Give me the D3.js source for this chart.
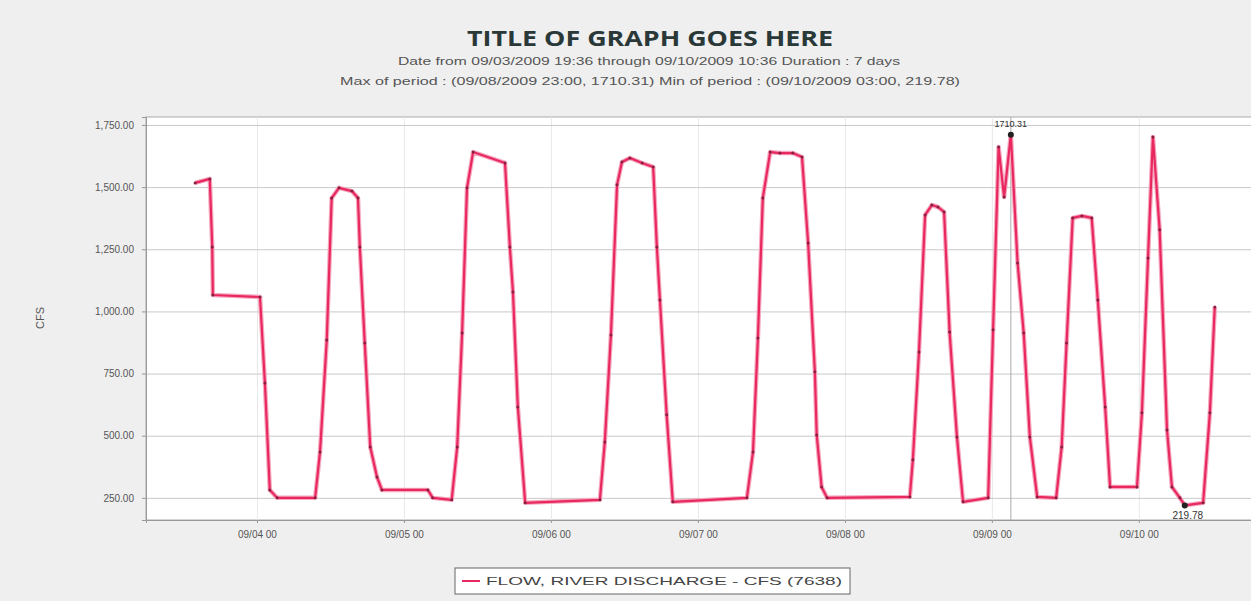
<!DOCTYPE html>
<html>
<head>
<meta charset="utf-8">
<script src="https://cdn.jsdelivr.net/npm/d3@7"></script>
<style>
  body { margin: 0; background: #efefef; }
  svg { display: block; font-family: "Liberation Sans", Arial, sans-serif; }
  .axis text { fill: #555; font-size: 10px; }
  .axis path, .axis line { stroke: #999; }
  .grid line { stroke: #c9c9c9; }
  .vgrid line { stroke: #e8e8e8; }
</style>
</head>
<body>
<svg id="chart" width="1251" height="601"></svg>
<script>
/*    ========    DATA    =========    */

var TITLE = "TITLE OF GRAPH GOES HERE";
var SUBTITLE_1 = "Date from 09/03/2009 19:36 through 09/10/2009 10:36 Duration : 7 days";
var SUBTITLE_2 = "Max of period : (09/08/2009 23:00, 1710.31) Min of period : (09/10/2009 03:00, 219.78)";
var SERIES_NAME = "FLOW, RIVER DISCHARGE - CFS (7638)";
var Y_LABEL = "CFS";

// hours after 09/03/2009 00:00
var hours = [13.9, 16.3, 16.7, 16.8, 24.5, 25.3, 26.1, 27.3, 33.5, 34.3, 35.4, 36.2, 37.4, 39.5, 40.5,
    40.8, 41.6, 42.5, 43.6, 44.4, 51.9, 52.7, 55.8, 56.7, 57.5, 58.3, 59.3, 64.5, 65.3, 65.8, 66.6,
    67.8, 80.0, 80.8, 81.8, 82.8, 83.6, 84.9, 86.9, 88.7, 89.3, 89.8, 90.9, 91.9, 104.0, 105.0, 105.8,
    106.6, 107.8, 109.4, 111.5, 113.0, 114.0, 115.1, 115.4, 116.2, 117.1, 130.6, 131.1, 132.1, 133.1,
    134.2, 135.2, 136.2, 137.1, 138.3, 139.3, 143.4, 144.2, 145.1, 146.0, 147.1, 148.2, 149.2, 150.2,
    151.4, 154.5, 155.4, 156.2, 157.2, 158.7, 160.3, 161.3, 162.5, 163.3, 167.7, 168.5, 169.5, 170.3,
    171.4, 172.6, 173.4, 174.7, 175.5, 178.5, 179.6, 180.4];

var cfs = [1517, 1533, 1259, 1066, 1058, 712, 282, 250, 250, 435, 885, 1456, 1497, 1484, 1456,
    1259, 873, 455, 334, 282, 282, 250, 242, 455, 913, 1497, 1641, 1597, 1259, 1078, 616,
    230, 242, 475, 905, 1509, 1601, 1617, 1597, 1581, 1259, 1046, 584, 234, 250, 435, 893,
    1456, 1641, 1637, 1637, 1621, 1275, 757, 503, 294, 250, 254, 403, 837, 1388,
    1428, 1420, 1400, 917, 495, 234, 250, 926, 1661, 1460, 1710.31, 1195, 913, 495,
    254, 250, 455, 873, 1376, 1384, 1376, 1046, 616, 294, 294, 592, 1215, 1702,
    1328, 523, 294, 250, 219.78, 230, 592, 1018];

var Y_TICKS = [250, 500, 750, 1000, 1250, 1500, 1750];
var Y_DOMAIN = [161, 1782];
var X_DOMAIN = [new Date(2009, 8, 3, 5, 53), new Date(2009, 8, 10, 19, 47)];
var X_TICKS = [4, 5, 6, 7, 8, 9, 10].map(function(d) { return new Date(2009, 8, d); });

/*    ========    SETTINGS    =========    */

var svg = d3.select("#chart");
var margin = {left: 146, top: 117};
var plotW = 1114, plotH = 403;
var LINE_COLOR = "#e8285f";

var base = new Date(2009, 8, 3).getTime();
var data = hours.map(function(h, i) {
    return {t: new Date(base + h * 3600000), v: cfs[i]};
});

var xscale = d3.scaleTime().domain(X_DOMAIN).range([0, plotW]);
var yscale = d3.scaleLinear().domain(Y_DOMAIN).range([plotH, 0]);

/*    ========    TITLES    =========    */

svg.append("text")
    .attr("x", 650).attr("y", 46)
    .attr("text-anchor", "middle")
    .attr("textLength", 366)
    .attr("lengthAdjust", "spacingAndGlyphs")
    .style("font-family", "'Open Sans', sans-serif")
    .style("font-weight", "bold")
    .style("font-size", "22px")
    .style("fill", "#2a3838")
    .text(TITLE);

svg.append("text")
    .attr("x", 649).attr("y", 65)
    .attr("text-anchor", "middle")
    .attr("textLength", 502)
    .attr("lengthAdjust", "spacingAndGlyphs")
    .style("font-size", "10.5px")
    .style("fill", "#555")
    .text(SUBTITLE_1);

svg.append("text")
    .attr("x", 650).attr("y", 85)
    .attr("text-anchor", "middle")
    .attr("textLength", 620)
    .attr("lengthAdjust", "spacingAndGlyphs")
    .style("font-size", "10.5px")
    .style("fill", "#555")
    .text(SUBTITLE_2);

/*    ========    PLOT    =========    */

var g = svg.append("g").attr("transform", "translate(" + margin.left + "," + margin.top + ")");

g.append("rect")
    .attr("width", plotW).attr("height", plotH)
    .style("fill", "#fff")
    .style("stroke", "#aaa");

g.append("g").attr("class", "vgrid")
    .attr("transform", "translate(0," + plotH + ")")
    .call(d3.axisBottom(xscale).tickValues(X_TICKS).tickSize(-plotH).tickFormat(""))
    .call(function(s) { s.select(".domain").remove(); });

g.append("g").attr("class", "grid")
    .call(d3.axisLeft(yscale).tickValues(Y_TICKS).tickSize(-plotW).tickFormat(""))
    .call(function(s) { s.select(".domain").remove(); });

g.append("g").attr("class", "axis")
    .call(d3.axisLeft(yscale).tickValues(Y_TICKS).tickSize(4).tickPadding(8).tickFormat(d3.format(",.2f")));

g.append("g").attr("class", "axis")
    .attr("transform", "translate(0," + plotH + ")")
    .call(d3.axisBottom(xscale).tickValues(X_TICKS).tickSize(3).tickPadding(8).tickFormat(d3.timeFormat("%m/%d %H")));

svg.append("text")
    .attr("transform", "translate(44,318) rotate(-90)")
    .attr("text-anchor", "middle")
    .style("font-size", "11px")
    .style("fill", "#555")
    .text(Y_LABEL);

// max / min markers
var maxD = data[d3.maxIndex(data, function(d) { return d.v; })];
var minD = data[d3.minIndex(data, function(d) { return d.v; })];

g.append("line")
    .attr("x1", xscale(maxD.t)).attr("x2", xscale(maxD.t))
    .attr("y1", 0).attr("y2", plotH)
    .style("stroke", "#aaa");

var line = d3.line()
    .x(function(d) { return xscale(d.t); })
    .y(function(d) { return yscale(d.v); });

// soft halo under the line, as in the blurred original
g.append("path")
    .datum(data)
    .attr("d", line)
    .style("fill", "none")
    .style("stroke", "#f5a8c0")
    .style("stroke-width", 4.5)
    .style("stroke-linejoin", "round");

g.append("path")
    .datum(data)
    .attr("d", line)
    .style("fill", "none")
    .style("stroke", LINE_COLOR)
    .style("stroke-width", 2.2)
    .style("stroke-linejoin", "round");

g.selectAll("circle.pt")
    .data(data).enter()
    .append("circle")
    .attr("class", "pt")
    .attr("cx", function(d) { return xscale(d.t); })
    .attr("cy", function(d) { return yscale(d.v); })
    .attr("r", 1.5)
    .style("fill", "#8a2040");

[maxD, minD].forEach(function(d) {
    g.append("circle")
        .attr("cx", xscale(d.t)).attr("cy", yscale(d.v))
        .attr("r", 3)
        .style("fill", "#222");
});

g.append("text")
    .attr("x", xscale(maxD.t)).attr("y", yscale(maxD.v) - 8)
    .attr("text-anchor", "middle")
    .style("font-size", "9px").style("fill", "#333")
    .text(d3.format(".2f")(maxD.v));

g.append("text")
    .attr("x", xscale(minD.t) + 3).attr("y", yscale(minD.v) + 14)
    .attr("text-anchor", "middle")
    .style("font-size", "10px").style("fill", "#333")
    .text(d3.format(".2f")(minD.v));

/*    ========    LEGEND    =========    */

var leg = svg.append("g").attr("transform", "translate(455,568)");
leg.append("rect")
    .attr("width", 395).attr("height", 26)
    .style("fill", "#fff")
    .style("stroke", "#666");
leg.append("line")
    .attr("x1", 7).attr("x2", 25).attr("y1", 13).attr("y2", 13)
    .style("stroke", LINE_COLOR).style("stroke-width", 2);
leg.append("text")
    .attr("x", 31).attr("y", 17)
    .attr("textLength", 356)
    .attr("lengthAdjust", "spacingAndGlyphs")
    .style("font-size", "11px")
    .style("fill", "#444")
    .text(SERIES_NAME);
</script>
</body>
</html>
